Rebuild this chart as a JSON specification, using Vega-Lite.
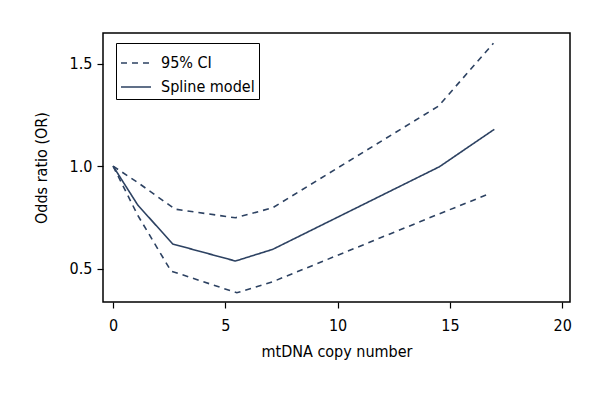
{
  "$schema": "https://vega.github.io/schema/vega-lite/v6.json",
  "autosize": {"type": "none"},
  "padding": {"left": 103, "top": 33, "right": 30, "bottom": 98},
  "width": 467,
  "height": 269,
  "background": "white",
  "config": {
    "font": "DejaVu Sans Condensed, Liberation Sans Narrow, Roboto, sans-serif",
    "view": {"stroke": "black", "strokeWidth": 1.5}
  },
  "data": {
    "values": [
      {"x": 0, "y": 1.0, "line": "upper", "type": "95% CI"},
      {"x": 1.1, "y": 0.92, "line": "upper", "type": "95% CI"},
      {"x": 2.76, "y": 0.79, "line": "upper", "type": "95% CI"},
      {"x": 5.45, "y": 0.748, "line": "upper", "type": "95% CI"},
      {"x": 7.11, "y": 0.797, "line": "upper", "type": "95% CI"},
      {"x": 14.49, "y": 1.293, "line": "upper", "type": "95% CI"},
      {"x": 16.94, "y": 1.6, "line": "upper", "type": "95% CI"},
      {"x": 0, "y": 1.0, "line": "lower", "type": "95% CI"},
      {"x": 1.1, "y": 0.76, "line": "lower", "type": "95% CI"},
      {"x": 2.58, "y": 0.488, "line": "lower", "type": "95% CI"},
      {"x": 5.51, "y": 0.382, "line": "lower", "type": "95% CI"},
      {"x": 7.11, "y": 0.436, "line": "lower", "type": "95% CI"},
      {"x": 14.5, "y": 0.766, "line": "lower", "type": "95% CI"},
      {"x": 16.8, "y": 0.867, "line": "lower", "type": "95% CI"},
      {"x": 0, "y": 1.0, "line": "fit", "type": "Spline model"},
      {"x": 1.1, "y": 0.81, "line": "fit", "type": "Spline model"},
      {"x": 2.66, "y": 0.62, "line": "fit", "type": "Spline model"},
      {"x": 5.45, "y": 0.537, "line": "fit", "type": "Spline model"},
      {"x": 7.11, "y": 0.594, "line": "fit", "type": "Spline model"},
      {"x": 14.53, "y": 0.997, "line": "fit", "type": "Spline model"},
      {"x": 16.98, "y": 1.18, "line": "fit", "type": "Spline model"}
    ]
  },
  "mark": {"type": "line", "color": "#2d4262", "strokeWidth": 1.6, "clip": true},
  "encoding": {
    "x": {
      "field": "x", "type": "quantitative",
      "scale": {"domain": [-0.45, 20.35], "nice": false, "zero": false},
      "axis": {
        "values": [0, 5, 10, 15, 20], "title": "mtDNA copy number",
        "domain": false, "grid": false, "tickSize": 6, "tickColor": "black", "tickWidth": 1.2,
        "labelFontSize": 16, "labelColor": "black", "labelPadding": 9,
        "titleFontSize": 16, "titleFontWeight": "normal", "titleColor": "black", "titlePadding": 10
      }
    },
    "y": {
      "field": "y", "type": "quantitative",
      "scale": {"domain": [0.337, 1.65], "nice": false, "zero": false},
      "axis": {
        "values": [0.5, 1.0, 1.5], "format": ".1f", "title": "Odds ratio (OR)",
        "domain": false, "grid": false, "tickSize": 6, "tickColor": "black", "tickWidth": 1.2,
        "labelFontSize": 16, "labelColor": "black", "labelPadding": 5,
        "titleFontSize": 16, "titleFontWeight": "normal", "titleColor": "black", "titlePadding": 20
      }
    },
    "detail": {"field": "line"},
    "strokeDash": {
      "field": "type", "type": "nominal",
      "scale": {"domain": ["95% CI", "Spline model"], "range": [[6, 5], [1, 0]]},
      "legend": {
        "title": null, "orient": "none", "legendX": 13, "legendY": 10,
        "strokeColor": "black", "padding": 4, "fillColor": "white",
        "symbolType": "stroke", "symbolSize": 900, "symbolStrokeWidth": 1.6,
        "symbolStrokeColor": "#2d4262",
        "labelFontSize": 16, "labelColor": "black", "rowPadding": 0, "labelOffset": 9,
        "labelLimit": 200
      }
    }
  }
}
